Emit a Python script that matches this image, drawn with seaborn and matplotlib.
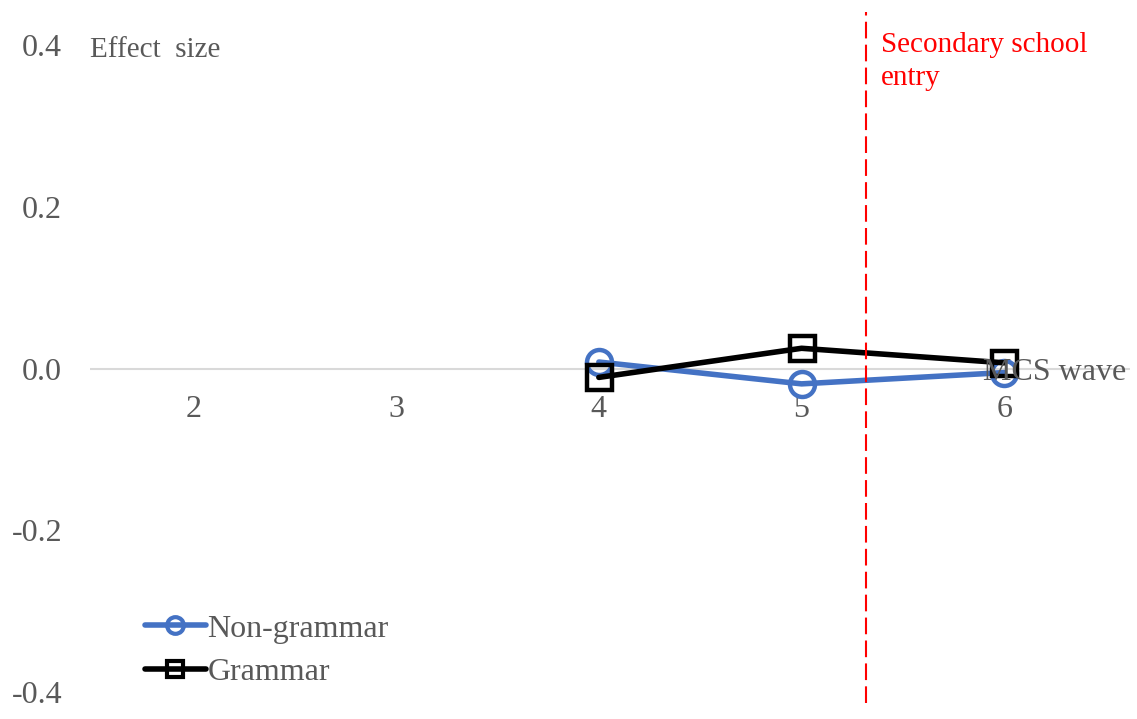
import pandas as pd
import seaborn as sns
import matplotlib.pyplot as plt

# effect sizes by MCS wave
waves = [4, 5, 6]
non_grammar = [0.008, -0.019, -0.005]
grammar = [-0.011, 0.025, 0.007]
wave_ticks = [2, 3, 4, 5, 6]
y_ticks = [-0.4, -0.2, 0.0, 0.2, 0.4]
entry_wave = 5.32

df = pd.DataFrame({
    'wave': waves + waves,
    'effect': non_grammar + grammar,
    'group': ['Non-grammar'] * 3 + ['Grammar'] * 3,
})
colors = {'Non-grammar': '#4472C4', 'Grammar': 'black'}

sns.set_style('white')
plt.rcParams['font.family'] = ['Liberation Serif', 'DejaVu Serif']
grey = '#595959'

fig = plt.figure(figsize=(11.37, 7.19), dpi=100)
ax = fig.add_axes([90 / 1137, 27 / 719, 1040 / 1137, 647 / 719])

ax.axhline(0, color='#d9d9d9', lw=1.5, zorder=0.5)

sns.lineplot(data=df, x='wave', y='effect', hue='group', style='group',
             hue_order=['Non-grammar', 'Grammar'], style_order=['Non-grammar', 'Grammar'],
             palette=colors, markers={'Non-grammar': 'o', 'Grammar': 's'}, dashes=False,
             linewidth=4, ax=ax)

# hollow markers, edge in the line colour
for ln in ax.lines[1:]:
    ln.set_markersize(18)
    ln.set_markerfacecolor('none')
    ln.set_markeredgecolor(ln.get_color())
    ln.set_markeredgewidth(3.2)

ax.set_xlim(1.49, 6.62)
ax.set_ylim(-0.4, 0.4)
ax.set_xticks(wave_ticks)
ax.set_yticks(y_ticks)
ax.set_yticklabels(['%.1f' % v for v in y_ticks])
ax.set_xlabel('')
ax.set_ylabel('')

for s in ['top', 'right', 'left']:
    ax.spines[s].set_visible(False)
ax.spines['bottom'].set_position(('data', 0))
ax.spines['bottom'].set_color('none')

ax.tick_params(axis='x', length=0, pad=19, labelsize=23, labelcolor=grey)
ax.tick_params(axis='y', length=0, pad=20, labelsize=23, labelcolor=grey)

# secondary school entry marker
ax.axvline(entry_wave, ymin=-0.017, ymax=1.051, color='red', lw=1.5,
           dashes=(8, 3), clip_on=False)
ax.text(entry_wave + 0.07, 0.416, 'Secondary school\nentry', color='red',
        fontsize=21, ha='left', va='top', linespacing=1.35)

ax.text(1.49, 0.394, 'Effect  size', color=grey, fontsize=21, ha='left', va='center')
ax.text(6.6, -0.005, 'MCS wave', color=grey, fontsize=23, ha='right', va='center', zorder=5)

handles, labels = ax.get_legend_handles_labels()
for h in handles:
    h.set_linewidth(4)
    h.set_markersize(12)
    h.set_markerfacecolor('none')
    h.set_markeredgecolor(h.get_color())
    h.set_markeredgewidth(3)
ax.legend(handles, labels, loc='center left', bbox_to_anchor=(145 / 1137, 0.095),
          bbox_transform=fig.transFigure, frameon=False, fontsize=23,
          labelcolor=grey, handlelength=1.9, handletextpad=0.05,
          borderpad=0, borderaxespad=0, labelspacing=0.45)

fig.savefig('out.png', dpi=100)
